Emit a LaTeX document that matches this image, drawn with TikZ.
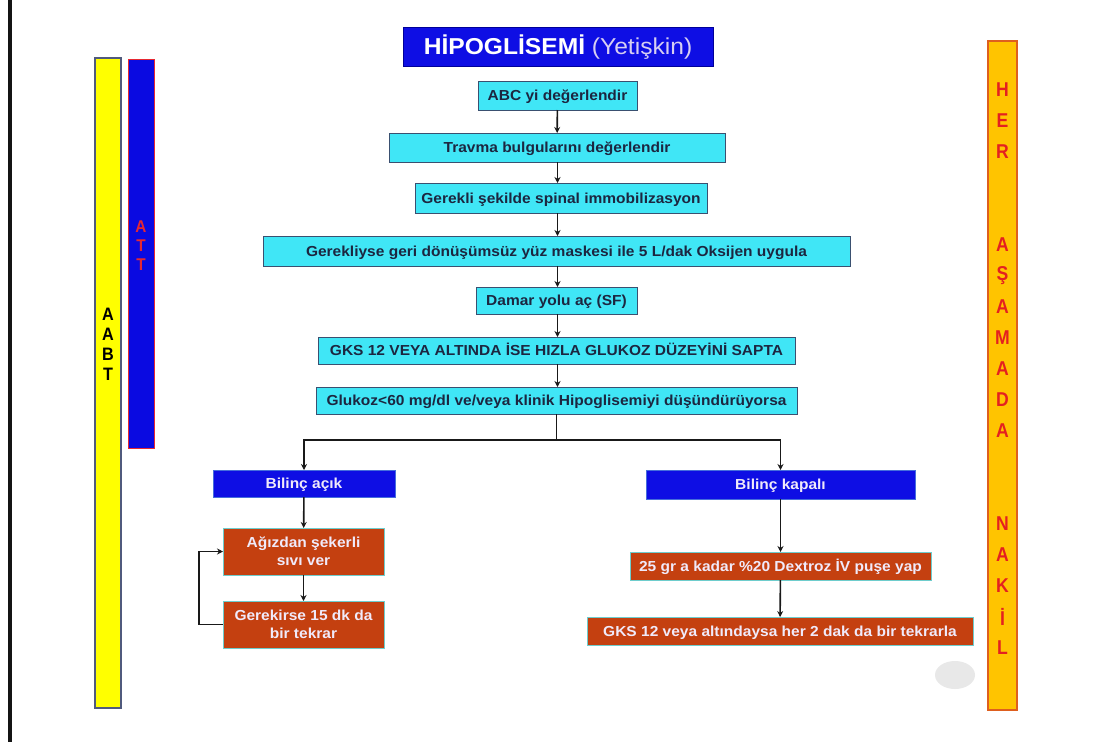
\documentclass[tikz,border=0pt]{standalone}
\usepackage{fontspec}
\setmainfont{Liberation Sans}[FakeStretch=1.07]
\newfontfamily\barfont{Liberation Sans}
\usetikzlibrary{arrows.meta}
\definecolor{cyanfill}{RGB}{64,230,246}
\definecolor{cyanedge}{RGB}{58,80,112}
\definecolor{bluefill}{RGB}{14,14,228}
\definecolor{blueedge}{RGB}{70,110,220}
\definecolor{brownfill}{RGB}{196,64,16}
\definecolor{brownedge}{RGB}{110,205,205}
\definecolor{darktext}{RGB}{28,38,64}
\definecolor{lighttext}{RGB}{240,234,250}
\definecolor{lavtext}{RGB}{214,206,242}
\definecolor{yellowfill}{RGB}{255,255,0}
\definecolor{yellowedge}{RGB}{80,90,125}
\definecolor{barblue}{RGB}{10,10,225}
\definecolor{barred}{RGB}{230,40,50}
\definecolor{orangefill}{RGB}{255,196,0}
\definecolor{orangeedge}{RGB}{222,95,30}
\definecolor{lettered}{RGB}{228,32,32}
\tikzset{
  every node/.style={inner sep=0pt, outer sep=0pt},
  basebox/.style={rectangle, line width=1pt, font=\fontsize{14.5}{18}\selectfont\bfseries},
  oneline/.style={text height=10pt, text depth=0pt},
  twoline/.style={align=center},
  cyanbox/.style={basebox, fill=cyanfill, draw=cyanedge, text=darktext},
  bluebox/.style={basebox, fill=bluefill, draw=blueedge, text=lighttext},
  brownbox/.style={basebox, fill=brownfill, draw=brownedge, line width=0.8pt, text=lighttext},
  arr/.style={draw=black!90, line width=1.6pt, -{Stealth[length=6pt,width=6pt]}},
  conn/.style={draw=black!90, line width=1.6pt},
  rletter/.style={font=\barfont\fontsize{20}{20}\selectfont\bfseries, text=lettered},
  yletter/.style={font=\barfont\fontsize{18}{18}\selectfont\bfseries, text=black},
  bletter/.style={font=\barfont\fontsize{17}{17}\selectfont\bfseries, text=barred}
}
\begin{document}
\begin{tikzpicture}[x=1pt,y=-1pt]
\useasboundingbox (0,0) rectangle (1101,742);
\fill[white] (0,0) rectangle (1101,742);
% left black edge line
\fill[black!92] (8,0) rectangle (12,742);
% side bars
\draw[fill=yellowfill, draw=yellowedge, line width=1.5pt] (95,58) rectangle (121,708);
\draw[fill=barblue, draw=barred, line width=0.8pt] (128,59) rectangle (154,448);
\draw[fill=orangefill, draw=orangeedge, line width=1.5pt] (988,41) rectangle (1017,710);
% faint smudge
\fill[black!9] (955,675) ellipse (20 and 14);
% bar letters
\foreach \l/\yy [count=\i] in {A/314,A/334,B/354,T/374}
  \node[yletter] (ya\i) at (108,\yy) {\scalebox{0.9}[1]{\l}};
\foreach \l/\yy [count=\i] in {A/227,T/246,T/265}
  \node[bletter] (ba\i) at (141,\yy) {\scalebox{0.9}[1]{\l}};
\foreach \l/\yy [count=\i] in {H/90,E/121,R/152,A/245,Ş/276,A/307,M/338,A/369,D/400,A/431,N/524,A/555,K/586,İ/617,L/648}
  \node[rletter] (ra\i) at (1002.5,\yy) {\scalebox{0.88}[1]{\l}};
% title
\node[rectangle, fill=bluefill, draw=blue!60!black, line width=1pt, minimum width=310, minimum height=39,
  text height=16pt, text depth=0pt, font=\fontsize{23}{23}\selectfont] (title) at (558,46.5)
  {\textcolor{white}{\bfseries HİPOGLİSEMİ} \textcolor{lavtext}{(Yetişkin)}};
% main chain
\node[cyanbox, oneline, minimum width=159, minimum height=29] (abc) at (557.5,95.5) {ABC yi değerlendir};
\node[cyanbox, oneline, minimum width=336, minimum height=29] (travma) at (557,147.5) {Travma bulgularını değerlendir};
\node[cyanbox, oneline, minimum width=292, minimum height=30] (spinal) at (561,198) {Gerekli şekilde spinal immobilizasyon};
\node[cyanbox, oneline, minimum width=587, minimum height=30] (oksijen) at (556.5,251) {Gerekliyse geri dönüşümsüz yüz maskesi ile 5 L/dak Oksijen uygula};
\node[cyanbox, oneline, minimum width=161, minimum height=27] (damar) at (556.5,300.5) {Damar yolu aç (SF)};
\node[cyanbox, oneline, minimum width=477, minimum height=27] (gks) at (556.5,350.5) {GKS 12 VEYA ALTINDA İSE HIZLA GLUKOZ DÜZEYİNİ SAPTA};
\node[cyanbox, oneline, minimum width=481, minimum height=27] (glukoz) at (556.5,400.5) {Glukoz<60 mg/dl ve/veya klinik Hipoglisemiyi düşündürüyorsa};
% branches
\node[bluebox, oneline, minimum width=182, minimum height=27] (acik) at (304,483.5) {Bilinç açık};
\node[bluebox, oneline, minimum width=269, minimum height=29] (kapali) at (780.5,484.5) {Bilinç kapalı};
\node[brownbox, twoline, minimum width=161, minimum height=47] (agiz) at (303.5,551.5) {Ağızdan şekerli\\sıvı ver};
\node[brownbox, twoline, minimum width=161, minimum height=47] (tekrar) at (303.5,624.5) {Gerekirse 15 dk da\\bir tekrar};
\node[brownbox, oneline, minimum width=301, minimum height=28] (dex) at (780.5,566) {25 gr a kadar \%20 Dextroz İV puşe yap};
\node[brownbox, oneline, minimum width=386, minimum height=28] (gks2) at (780,631) {GKS 12 veya altındaysa her 2 dak da bir tekrarla};
% connectors
\draw[arr] (abc) -- (travma);
\draw[arr] (travma.south -| abc) -- (abc |- spinal.north);
\draw[arr] (spinal.south -| abc) -- (abc |- oksijen.north);
\draw[arr] (oksijen.south -| abc) -- (abc |- damar.north);
\draw[arr] (damar.south -| abc) -- (abc |- gks.north);
\draw[arr] (gks.south -| abc) -- (abc |- glukoz.north);
\coordinate (split) at (556.5,440);
\draw[conn] (glukoz.south) -- (split);
\draw[arr] (split) -| (acik.north);
\draw[arr] (split) -| (kapali.north);
\draw[arr] (acik) -- (agiz);
\draw[arr] (agiz) -- (tekrar);
\draw[arr] (tekrar.west) -- ++(-24,0) |- (agiz.west);
\draw[arr] (kapali) -- (dex);
\draw[arr] (dex) -- (gks2);
\end{tikzpicture}
\end{document}
